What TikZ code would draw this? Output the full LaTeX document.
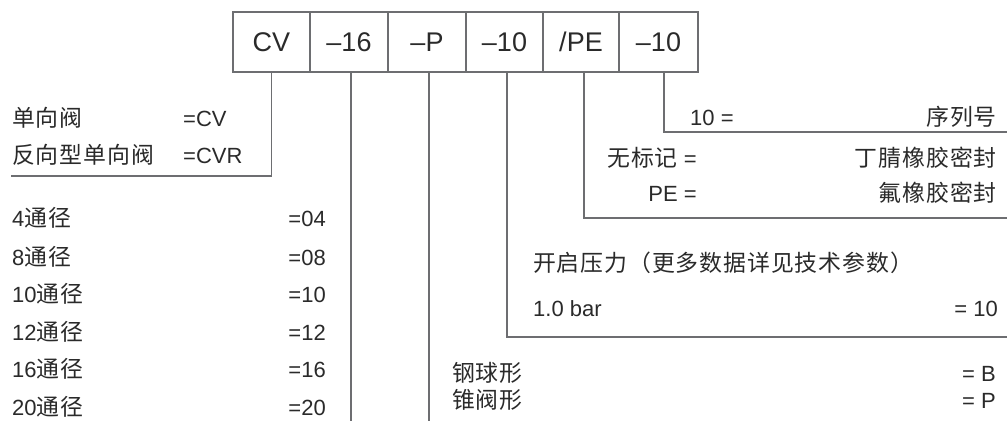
\documentclass[tikz,border=0pt]{standalone}
\usepackage{fontspec}
\setmainfont{Liberation Sans}
\newfontfamily\cjk{Noto Sans CJK SC}[Scale=1.04,LetterSpace=4]
\definecolor{ink}{HTML}{2A2A2A}
\definecolor{rulec}{HTML}{6D6E71}
\begin{document}
\begin{tikzpicture}[x=1pt,y=-1pt,
  box/.style={draw=rulec, line width=1.2pt, minimum height=60pt, inner sep=0pt,
              font=\fontsize{27}{27}\selectfont, text=ink},
  lbl/.style={inner sep=0pt, font=\fontsize{22}{22}\selectfont, text=ink},
  conn/.style={draw=rulec, line width=1.2pt}]
\useasboundingbox (0,0) rectangle (1007,421);

% code boxes
\node[box, minimum width=77pt] (b1) at (271.5,42) {CV};
\node[box, minimum width=78pt] (b2) at (349,42) {–16};
\node[box, minimum width=78pt] (b3) at (427,42) {–P};
\node[box, minimum width=77pt] (b4) at (504.5,42) {–10};
\node[box, minimum width=76pt] (b5) at (581,42) {/PE};
\node[box, minimum width=79pt] (b6) at (658.5,42) {–10};

% connector end points
\coordinate (e1) at (11,176);
\coordinate (e2) at (351,421);
\coordinate (e3) at (429,421);
\coordinate (c4) at (507,337);
\coordinate (e4) at (1007,337);
\coordinate (c5) at (584,218);
\coordinate (e5) at (1007,218);
\coordinate (c6) at (664,132);
\coordinate (e6) at (1007,132);

\draw[conn] (b1.south) |- (e1);
\draw[conn] (b2.south -| e2) -- (e2);
\draw[conn] (b3.south -| e3) -- (e3);
\draw[conn] (b4.south -| c4) -- (c4) -- (e4);
\draw[conn] (b5.south -| c5) -- (c5) -- (e5);
\draw[conn] (b6.south -| c6) -- (c6) -- (e6);

% type
\node[lbl, anchor=base west] (t1) at (12,126) {\cjk 单向阀};
\node[lbl, anchor=base west] (t1v) at (183,126) {=CV};
\node[lbl, anchor=base west] (t2) at (12,163) {\cjk 反向型单向阀};
\node[lbl, anchor=base west] (t2v) at (183,163) {=CVR};

% sizes
\node[lbl, anchor=base west] (s1) at (12,226) {4{\cjk 通径}};
\node[lbl, anchor=base east] (s1v) at (326,226) {=04};
\node[lbl, anchor=base west] (s2) at (12,265) {8{\cjk 通径}};
\node[lbl, anchor=base east] (s2v) at (326,265) {=08};
\node[lbl, anchor=base west] (s3) at (12,302) {10{\cjk 通径}};
\node[lbl, anchor=base east] (s3v) at (326,302) {=10};
\node[lbl, anchor=base west] (s4) at (12,340) {12{\cjk 通径}};
\node[lbl, anchor=base east] (s4v) at (326,340) {=12};
\node[lbl, anchor=base west] (s5) at (12,377) {16{\cjk 通径}};
\node[lbl, anchor=base east] (s5v) at (326,377) {=16};
\node[lbl, anchor=base west] (s6) at (12,415) {20{\cjk 通径}};
\node[lbl, anchor=base east] (s6v) at (326,415) {=20};

% poppet type
\node[lbl, anchor=base west] (p1) at (452,381) {\cjk 钢球形};
\node[lbl, anchor=base east] (p1v) at (996,381) {= B};
\node[lbl, anchor=base west] (p2) at (452,408) {\cjk 锥阀形};
\node[lbl, anchor=base east] (p2v) at (996,408) {= P};

% cracking pressure
\node[lbl, anchor=base west] (k0) at (533,271) {\cjk 开启压力（更多数据详见技术参数）};
\node[lbl, anchor=base west] (k1) at (533,316) {1.0 bar};
\node[lbl, anchor=base east] (k1v) at (998,316) {= 10};

% seals
\node[lbl, anchor=base east] (m1) at (697,166) {{\cjk 无标记} =};
\node[lbl, anchor=base east] (m1v) at (997,166) {\cjk 丁腈橡胶密封};
\node[lbl, anchor=base east] (m2) at (697,201) {PE =};
\node[lbl, anchor=base east] (m2v) at (997,201) {\cjk 氟橡胶密封};

% series
\node[lbl, anchor=base west] (n1) at (690,125) {10 =};
\node[lbl, anchor=base east] (n1v) at (997,125) {\cjk 序列号};
\end{tikzpicture}
\end{document}
